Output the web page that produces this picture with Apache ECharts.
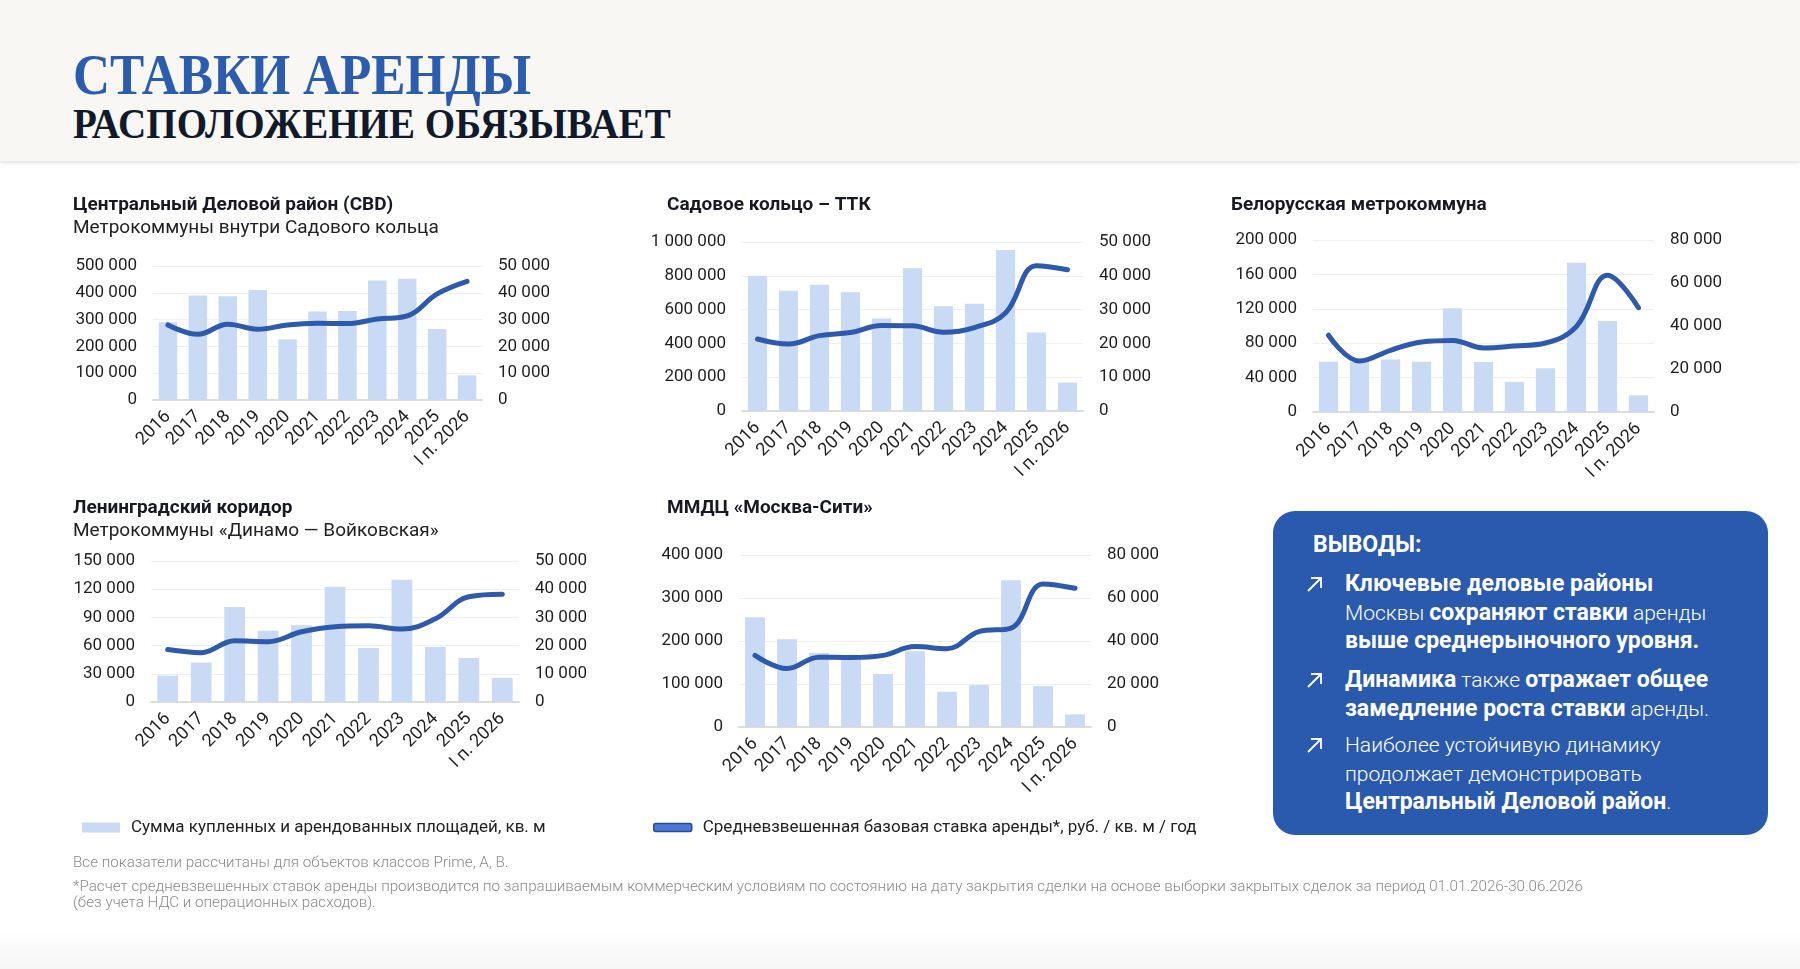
<!DOCTYPE html>
<html>
<head>
<meta charset="utf-8">
<script src="https://cdn.jsdelivr.net/npm/echarts@6/dist/echarts.min.js"></script>
<style>
  html, body { margin:0; padding:0; width:1800px; height:969px; background:#ffffff; overflow:hidden; font-family: Roboto, "Noto Sans", sans-serif; }
  #header { position:absolute; left:0; top:0; width:1800px; height:161px; background:#f8f7f4; box-shadow: 0 2px 4px rgba(0,0,0,0.12); }
  .h1 { position:absolute; left:73px; top:46px; font-family:"Liberation Serif", "DejaVu Serif", serif; font-weight:700; font-size:57px; line-height:57px; color:#2b5cae; transform:scaleX(0.90); transform-origin:left top; white-space:nowrap; }
  .h2 { position:absolute; left:73px; top:102px; font-family:"Liberation Serif", "DejaVu Serif", serif; font-weight:700; font-size:43px; line-height:43px; color:#111a2b; transform:scaleX(0.908); transform-origin:left top; white-space:nowrap; }
  #chart { position:absolute; left:0; top:0; width:1800px; height:969px; }
  #panel { position:absolute; left:1273px; top:511px; width:495px; height:324px; background:#2a5aad; border-radius:22px; color:#fff; }
  .pt { position:absolute; left:40px; top:21px; font-size:23px; line-height:26px; font-weight:700; }
  .item { position:absolute; left:72px; font-size:21px; line-height:28.5px; font-weight:300; white-space:nowrap; }
  .item b { font-weight:700; font-size:23px; }
  .arr { position:absolute; left:-39px; top:6px; width:17px; height:17px; }
  .foot { position:absolute; left:73px; font-size:15.2px; font-weight:300; color:#8a8a8a; white-space:nowrap; line-height:16px; }
  #bottom { position:absolute; left:0; top:930px; width:1800px; height:39px; background:linear-gradient(#ffffff, #f6f6f6); }
</style>
</head>
<body>
<div id="header">
  <div class="h1">СТАВКИ АРЕНДЫ</div>
  <div class="h2">РАСПОЛОЖЕНИЕ ОБЯЗЫВАЕТ</div>
</div>
<div id="bottom"></div>
<div id="chart"></div>
<div id="panel">
  <div class="pt">ВЫВОДЫ:</div>
  <div class="item" style="top:59px"><svg class="arr" viewBox="0 0 17 17"><path d="M2 15 L15 2 M5 2 H15 V12" stroke="#fff" stroke-width="1.8" fill="none"/></svg><b>Ключевые деловые районы</b><br>Москвы <b>сохраняют ставки</b> аренды<br><b>выше среднерыночного уровня.</b></div>
  <div class="item" style="top:155px"><svg class="arr" viewBox="0 0 17 17"><path d="M2 15 L15 2 M5 2 H15 V12" stroke="#fff" stroke-width="1.8" fill="none"/></svg><b>Динамика</b> также <b>отражает общее</b><br><b>замедление роста ставки</b> аренды.</div>
  <div class="item" style="top:220px"><svg class="arr" viewBox="0 0 17 17"><path d="M2 15 L15 2 M5 2 H15 V12" stroke="#fff" stroke-width="1.8" fill="none"/></svg>Наиболее устойчивую динамику<br>продолжает демонстрировать<br><b>Центральный Деловой район</b>.</div>
</div>
<div class="foot" style="top:854px">Все показатели рассчитаны для объектов классов Prime, A, B.</div>
<div class="foot" style="top:878px">*Расчет средневзвешенных ставок аренды производится по запрашиваемым коммерческим условиям по состоянию на дату закрытия сделки на основе выборки закрытых сделок за период 01.01.2026-30.06.2026<br>(без учета НДС и операционных расходов).</div>

<script>
// ---- Data ----
const categories = ['2016','2017','2018','2019','2020','2021','2022','2023','2024','2025','I п. 2026'];

const cbdArea = [290000, 390000, 387000, 410000, 226000, 330000, 332000, 446000, 452000, 265000, 92000];
const cbdRate = [28000, 24500, 28300, 26400, 28000, 28600, 28500, 30200, 31400, 39600, 44300];

const ttkArea = [800000, 711000, 747000, 702000, 547000, 844000, 620000, 634000, 953000, 464000, 168000];
const ttkRate = [21300, 19800, 22300, 23200, 25300, 25200, 23300, 24700, 29000, 43000, 41800];

const belArea = [58500, 58000, 61000, 58500, 120500, 58000, 35000, 51000, 173600, 105800, 19400];
const belRate = [35700, 23700, 28700, 32600, 33300, 29800, 30700, 32100, 39800, 63600, 48500];

const lenArea = [28100, 42000, 101000, 75900, 81600, 122600, 57400, 130000, 58400, 46700, 25700];
const lenRate = [18600, 17500, 21700, 21400, 24900, 26700, 27000, 25900, 29500, 37300, 38200];

const mcArea = [255000, 204000, 172000, 165000, 123000, 176000, 82000, 97500, 341000, 95000, 29400];
const mcRate = [33300, 27200, 32500, 32300, 33300, 37400, 36400, 44400, 46000, 66500, 64500];

const areaName = 'Сумма купленных и арендованных площадей, кв. м';
const rateName = 'Средневзвешенная базовая ставка аренды*, руб. / кв. м / год';

const panels = [
  { title:'Центральный Деловой район (CBD)', sub:'Метрокоммуны внутри Садового кольца', area:cbdArea, rate:cbdRate,
    leftMax:500000, leftInt:100000, rightMax:50000, rightInt:10000,
    grid:{left:153, top:266, width:329, height:134}, tx:73, ty:205 },
  { title:'Садовое кольцо – ТТК', sub:'', area:ttkArea, rate:ttkRate,
    leftMax:1000000, leftInt:200000, rightMax:50000, rightInt:10000,
    grid:{left:742, top:242, width:341, height:169}, tx:667, ty:205 },
  { title:'Белорусская метрокоммуна', sub:'', area:belArea, rate:belRate,
    leftMax:200000, leftInt:40000, rightMax:80000, rightInt:20000,
    grid:{left:1313, top:240, width:341, height:172}, tx:1231, ty:205 },
  { title:'Ленинградский коридор', sub:'Метрокоммуны «Динамо — Войковская»', area:lenArea, rate:lenRate,
    leftMax:150000, leftInt:30000, rightMax:50000, rightInt:10000,
    grid:{left:151, top:561, width:368, height:141}, tx:73, ty:508 },
  { title:'ММДЦ «Москва-Сити»', sub:'', area:mcArea, rate:mcRate,
    leftMax:400000, leftInt:100000, rightMax:80000, rightInt:20000,
    grid:{left:739, top:555, width:352, height:172}, tx:667, ty:508 }
];

const fmt = v => String(v).replace(/\B(?=(\d{3})+(?!\d))/g, ' ');
const FONT = 'Roboto';
const axisLabelStyle = { fontSize:17, color:'#1f1f1f', fontFamily:FONT };

const grids = [], xAxes = [], yAxes = [], series = [], graphics = [];
panels.forEach((p, i) => {
  grids.push(Object.assign({ containLabel:false }, p.grid));
  xAxes.push({
    type:'category', gridIndex:i, data:categories,
    axisLine:{ show:true, lineStyle:{ color:'#dcdcdc', width:2 } },
    axisTick:{ show:false },
    axisLabel:{ rotate:45, margin:14, interval:0, fontSize:18, color:'#1f1f1f', fontFamily:FONT }
  });
  yAxes.push({
    type:'value', gridIndex:i, position:'left', min:0, max:p.leftMax, interval:p.leftInt,
    axisLine:{show:false}, axisTick:{show:false},
    splitLine:{ show:true, lineStyle:{ color:'#efefef', width:1 } },
    axisLabel: Object.assign({ margin:16, formatter:fmt }, axisLabelStyle)
  });
  yAxes.push({
    type:'value', gridIndex:i, position:'right', min:0, max:p.rightMax, interval:p.rightInt,
    axisLine:{show:false}, axisTick:{show:false}, splitLine:{show:false},
    axisLabel: Object.assign({ margin:16, formatter:fmt }, axisLabelStyle)
  });
  series.push({
    name:areaName, type:'bar', xAxisIndex:i, yAxisIndex:2*i, data:p.area,
    barWidth:'62%', itemStyle:{ color:'#c9daf4' }, z:2, silent:true
  });
  series.push({
    name:rateName, type:'line', xAxisIndex:i, yAxisIndex:2*i+1, data:p.rate,
    smooth:0.4, symbol:'none', lineStyle:{ color:'#2d5aad', width:5, cap:'round', join:'round' },
    itemStyle:{ color:'#2d5aad' }, z:3, silent:true
  });
  graphics.push({
    type:'text', x:p.tx, y:p.ty,
    style:{ text:p.title, fill:'#161a24', font:'700 19px Roboto', textVerticalAlign:'middle', verticalAlign:'middle' }
  });
  if (p.sub) {
    graphics.push({
      type:'text', x:p.tx, y:p.ty + 23,
      style:{ text:p.sub, fill:'#222222', font:'400 19px Roboto', textVerticalAlign:'middle', verticalAlign:'middle' }
    });
  }
});

const chart = echarts.init(document.getElementById('chart'), null, { renderer:'canvas' });
chart.setOption({
  animation:false,
  backgroundColor:'transparent',
  grid:grids, xAxis:xAxes, yAxis:yAxes, series:series,
  graphic:graphics,
  legend:[
    { left:77, top:814, selectedMode:false, itemWidth:38, itemHeight:10,
      data:[{ name:areaName, icon:'rect', itemStyle:{ color:'#c9daf4' } }],
      textStyle:{ fontSize:17, color:'#222', fontFamily:FONT, padding:[0,0,0,6] } },
    { left:648, top:814, selectedMode:false, itemWidth:38, itemHeight:8,
      data:[{ name:rateName, icon:'roundRect', itemStyle:{ color:'#4a78d2', borderColor:'#234d9c', borderWidth:1.5 } }],
      textStyle:{ fontSize:17, color:'#222', fontFamily:FONT, padding:[0,0,0,6] } }
  ]
});
</script>
</body>
</html>
